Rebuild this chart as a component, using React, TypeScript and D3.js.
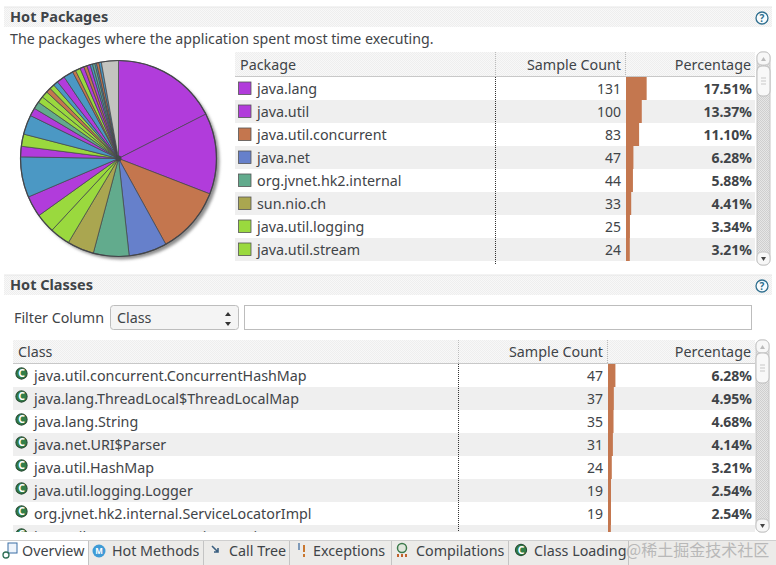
import React from "react";
import * as d3 from "d3";

const FONT = "'Noto Sans', sans-serif";
const TEXT = "#3f4448";
const ROW_ALT = "#efefef";
const BAR = "#c4774f";

const PURPLE = "#b13cdb";
const ORANGE = "#c4764e";
const BLUE = "#6680cb";
const TEAL = "#62ab8d";
const OLIVE = "#aaa650";
const GREEN = "#9ad93e";
const SKY = "#4b99c4";
const GRAY = "#c3c4c0";

const packageNames = ["java.lang", "java.util", "java.util.concurrent", "java.net", "org.jvnet.hk2.internal", "sun.nio.ch", "java.util.logging", "java.util.stream"];
const packageCounts = [131, 100, 83, 47, 44, 33, 25, 24];
const packagePercents = [17.51, 13.37, 11.1, 6.28, 5.88, 4.41, 3.34, 3.21];
const packageColors = [PURPLE, PURPLE, ORANGE, BLUE, TEAL, OLIVE, GREEN, GREEN];

const otherSliceCounts = [26, 50, 13, 15, 24, 10, 9, 8, 8, 6, 6, 6, 10, 12, 4, 6, 5, 4, 4, 3, 3, 2, 3, 3, 21];
const otherSliceColors = [PURPLE, SKY, PURPLE, GREEN, SKY, PURPLE, TEAL, GREEN, GREEN, ORANGE, GREEN, SKY, PURPLE, SKY, ORANGE, GREEN, PURPLE, ORANGE, PURPLE, SKY, TEAL, SKY, ORANGE, SKY, GRAY];

const classNames = ["java.util.concurrent.ConcurrentHashMap", "java.lang.ThreadLocal$ThreadLocalMap", "java.lang.String", "java.net.URI$Parser", "java.util.HashMap", "java.util.logging.Logger", "org.jvnet.hk2.internal.ServiceLocatorImpl", "java.util.concurrent.atomic.AtomicLong"];
const classCounts = [47, 37, 35, 31, 24, 19, 19];
const classPercents = [6.28, 4.95, 4.68, 4.14, 3.21, 2.54, 2.54, 2.41];

const tabLabels = ["Overview", "Hot Methods", "Call Tree", "Exceptions", "Compilations", "Class Loading"];
const tabEdges = [0, 88, 203, 289, 391, 508, 628];
const tabIconX = [3, 92, 210, 295, 396, 514];
const tabTextX = [22, 112, 229, 313, 416, 534];

const pieValues = [...packageCounts, ...otherSliceCounts];
const pieColors = [...packageColors, ...otherSliceColors];
const ditherPairs: [string, string, string][] = [
  [OLIVE, "#c2a24e", "#92aa52"],
  [TEAL, "#58a29c", "#6cb47e"],
  [BLUE, "#5c78cc", "#7088ca"],
  [SKY, "#4290c8", "#549fc0"],
];

const barScale = d3.scaleLinear().domain([0, 100]).range([0, 118]);
const sliceFill = (c: string) => {
  const k = ditherPairs.findIndex((p) => p[0] === c);
  return k >= 0 ? `url(#slice${k})` : c;
};

function SectionHeader({ y, title, base }: { y: number; title: string; base: number }) {
  return (
    <g>
      <rect x={4} y={y} width={768} height={20} fill="url(#dither)" />
      <line x1={4} x2={772} y1={y} y2={y} stroke="#e6e6e6" />
      <text x={10} y={base} fontSize={14.5} fontWeight={700} fill={TEXT}>{title}</text>
      <circle cx={762} cy={y + 11} r={6} fill="#f8fbfd" stroke="#2f6f8f" strokeWidth={1.3} />
      <text x={762} y={y + 15} fontSize={10} fontWeight={700} textAnchor="middle" fill="#2f6f8f">?</text>
    </g>
  );
}

function Scrollbar({ x, y, height, thumbY }: { x: number; y: number; height: number; thumbY: number }) {
  return (
    <g>
      <rect x={x} y={y} width={13} height={height} rx={5} fill="url(#ditherDark)" stroke="#c6c6c6" />
      <rect x={x} y={y} width={13} height={13} rx={5} fill="#f7f7f7" stroke="#c6c6c6" />
      <path d={`M${x + 4},${y + 9}L${x + 9},${y + 9}L${x + 6.5},${y + 5}Z`} fill="#bbbbbb" />
      <rect x={x} y={y + height - 13} width={13} height={13} rx={5} fill="#f7f7f7" stroke="#c6c6c6" />
      <path d={`M${x + 4},${y + height - 8}L${x + 9},${y + height - 8}L${x + 6.5},${y + height - 4}Z`} fill="#444444" />
      <rect x={x} y={thumbY} width={13} height={30} rx={5} fill="#f8f8f8" stroke="#bdbdbd" />
      <path d={`M${x + 4},${thumbY + 12}h5M${x + 4},${thumbY + 15}h5M${x + 4},${thumbY + 18}h5`} stroke="#c8c8c8" />
    </g>
  );
}

function Table(props: {
  id: string; x: number; top: number; headerH: number; headBase: number; bottom: number; col1: number; col2: number; right: number;
  title: string; names: string[]; counts: number[]; percents: number[]; colors?: string[];
}) {
  const { id, x, top, headerH, headBase, bottom, col1, col2, right, title, names, counts, percents, colors } = props;
  const y0 = top + headerH;
  const band = d3.scaleBand<number>().domain(d3.range(names.length)).range([y0, y0 + names.length * 23]);
  const textX = colors ? x + 22 : x + 21;
  return (
    <g>
      <clipPath id={id}><rect x={x} y={top} width={right - x} height={bottom - top} /></clipPath>
      <g clipPath={`url(#${id})`}>
        <rect x={x} y={top} width={right - x} height={headerH - 1} fill="url(#dither)" />
        <line x1={x} x2={right} y1={y0 - 0.5} y2={y0 - 0.5} stroke="#c8c8c8" />
        {[col1, col2].map((c) => (
          <line key={c} x1={c + 0.5} x2={c + 0.5} y1={top} y2={y0 - 1} stroke="#bbbbbb" strokeDasharray="1 1" />
        ))}
        <text x={x + 5} y={headBase} fontSize={14.3} fill={TEXT}>{title}</text>
        <text x={col2 - 4} y={headBase} fontSize={14.3} fill={TEXT} textAnchor="end">Sample Count</text>
        <text x={right - 4} y={headBase} fontSize={14.3} fill={TEXT} textAnchor="end">Percentage</text>
        {names.map((name, i) => {
          const y = band(i) as number;
          const h = band.bandwidth();
          return (
            <g key={name}>
              <rect x={x} y={y} width={right - x} height={h} fill={i % 2 ? ROW_ALT : "#ffffff"} />
              {colors ? (
                <rect x={x + 3.5} y={y + 5} width={12.5} height={12.5} fill={colors[i]} stroke="#555555" strokeWidth={0.8} />
              ) : (
                <g>
                  <circle cx={x + 8.5} cy={y + 9.5} r={5.6} fill="#327f48" stroke="#2a4f36" strokeWidth={1.1} />
                  <text x={x + 8.5} y={y + 13.2} fontSize={10.5} fontWeight={700} textAnchor="middle" fill="#ffffff">C</text>
                </g>
              )}
              <text x={textX} y={y + 17} fontSize={14.3} fill={TEXT}>{name}</text>
              {counts[i] !== undefined && (
                <text x={col2 - 4} y={y + 17} fontSize={14} fill={TEXT} textAnchor="end">{counts[i]}</text>
              )}
              <rect x={col2 + 1} y={y} width={barScale(percents[i])} height={h} fill={BAR} />
              {counts[i] !== undefined && (
                <text x={right - 3} y={y + 17} fontSize={14} fontWeight={700} fill={TEXT} textAnchor="end">{percents[i].toFixed(2)}%</text>
              )}
            </g>
          );
        })}
        <line x1={col1 + 0.5} x2={col1 + 0.5} y1={y0} y2={bottom} stroke="#333333" strokeDasharray="1 1" />
      </g>
    </g>
  );
}

function TabIcon({ index, x }: { index: number; x: number }) {
  const cy = 551;
  if (index === 0)
    return <g><rect x={x + 5} y={cy - 8} width={9} height={10} fill="#eef4fb" stroke="#3a6ea5" /><circle cx={x + 3} cy={cy + 4} r={3} fill="none" stroke="#2e6f55" strokeWidth={1.3} /></g>;
  if (index === 1)
    return <g><circle cx={x + 7} cy={cy} r={6.5} fill="#3f9bd6" /><text x={x + 7} y={cy + 3} fontSize={8} fontWeight={700} textAnchor="middle" fill="#ffffff">M</text></g>;
  if (index === 2)
    return <path d={`M${x + 2},${cy - 5}L${x + 8},${cy + 1}M${x + 4},${cy + 1}H${x + 8}V${cy - 3}`} fill="none" stroke="#3a5f80" strokeWidth={1.6} />;
  if (index === 3)
    return <g><path d={`M${x + 4},${cy - 8}V${cy - 1}`} stroke="#5a7fa8" strokeWidth={1.5} /><path d={`M${x + 9},${cy - 6}V${cy + 1}M${x + 9},${cy + 3}V${cy + 6}`} stroke="#c9772f" strokeWidth={2} /></g>;
  if (index === 4)
    return <g><circle cx={x + 6} cy={cy - 3} r={4.5} fill="#dfe6dc" stroke="#3d7a4c" strokeWidth={1.5} /><path d={`M${x + 2},${cy + 6}v-3M${x + 6},${cy + 6}v-3M${x + 10},${cy + 6}v-3`} stroke="#c2622d" strokeWidth={2} /></g>;
  return <g><circle cx={x + 7} cy={cy - 1} r={5.6} fill="#327f48" stroke="#2a4f36" strokeWidth={1.1} /><text x={x + 7} y={cy + 2.7} fontSize={10.5} fontWeight={700} textAnchor="middle" fill="#ffffff">C</text></g>;
}

export default function App() {
  const cx = 118.5;
  const cy = 158.5;
  const r = 98;
  const arcs = d3.pie<number>().sort(null)(pieValues);
  const arc = d3.arc<d3.PieArcDatum<number>>().innerRadius(0).outerRadius(r);

  return (
    <svg width={776} height={565} viewBox="0 0 776 565" style={{ position: "fixed", left: 0, top: 0, background: "#ffffff" }} fontFamily={FONT}>
      <defs>
        <pattern id="dither" width={2} height={2} patternUnits="userSpaceOnUse">
          <rect width={2} height={2} fill="#f8f8f8" />
          <rect width={1} height={1} fill="#eeeeee" />
          <rect x={1} y={1} width={1} height={1} fill="#eeeeee" />
        </pattern>
        <pattern id="ditherDark" width={2} height={2} patternUnits="userSpaceOnUse">
          <rect width={2} height={2} fill="#e6e6e6" />
          <rect width={1} height={1} fill="#cfcfcf" />
          <rect x={1} y={1} width={1} height={1} fill="#cfcfcf" />
        </pattern>
        {ditherPairs.map((p, k) => (
          <pattern key={k} id={`slice${k}`} width={2} height={2} patternUnits="userSpaceOnUse">
            <rect width={2} height={2} fill={p[1]} />
            <rect width={1} height={1} fill={p[2]} />
            <rect x={1} y={1} width={1} height={1} fill={p[2]} />
          </pattern>
        ))}
        <filter id="shadow" x="-10%" y="-10%" width="125%" height="125%">
          <feGaussianBlur stdDeviation={1.5} />
        </filter>
      </defs>

      <SectionHeader y={7} base={22} title="Hot Packages" />
      <text x={10} y={44} fontSize={14.2} fill={TEXT}>The packages where the application spent most time executing.</text>

      <circle cx={cx + 3} cy={cy + 3} r={r} fill="#8f8f8f" filter="url(#shadow)" />
      <g transform={`translate(${cx},${cy})`}>
        {arcs.map((a, i) => (
          <path key={i} d={arc(a) as string} fill={sliceFill(pieColors[i])} stroke="#44464a" strokeWidth={0.7} />
        ))}
        <circle r={r} fill="none" stroke="#44464a" strokeWidth={1.2} />
        <circle r={3} fill="#44464a" />
      </g>

      <Table id="t1" x={235} top={52} headerH={25} headBase={70} bottom={264} col1={495} col2={625} right={755}
        title="Package" names={packageNames} counts={packageCounts} percents={packagePercents} colors={packageColors} />
      <Scrollbar x={757} y={52} height={213} thumbY={66} />

      <SectionHeader y={275} base={290} title="Hot Classes" />
      <text x={14} y={323} fontSize={14.3} fill={TEXT}>Filter Column</text>
      <rect x={110.5} y={305.5} width={128} height={24} rx={3} fill="#f4f4f4" stroke="#bdbdbd" />
      <text x={117} y={323} fontSize={14.3} fill={TEXT}>Class</text>
      <path d="M225,316l3,-4l3,4ZM225,322l3,4l3,-4Z" fill="#333333" />
      <rect x={244.5} y={305.5} width={507} height={24} fill="#ffffff" stroke="#bdbdbd" />

      <Table id="t2" x={13} top={340} headerH={24} headBase={357} bottom={532} col1={458} col2={607} right={755}
        title="Class" names={classNames} counts={classCounts} percents={classPercents} />
      <Scrollbar x={756} y={340} height={192} thumbY={353} />

      <rect x={0} y={540} width={776} height={25} fill="#ecebe9" />
      <line x1={0} x2={776} y1={540.5} y2={540.5} stroke="#cfcfcf" />
      <rect x={0} y={541} width={88} height={24} fill="#ffffff" />
      {tabLabels.map((label, i) => (
        <g key={label}>
          <TabIcon index={i} x={tabIconX[i]} />
          <text x={tabTextX[i]} y={556} fontSize={14.3} fill={TEXT}>{label}</text>
          <line x1={tabEdges[i + 1] + 0.5} x2={tabEdges[i + 1] + 0.5} y1={541} y2={565} stroke="#c4c4c4" />
        </g>
      ))}
      <text x={626} y={556} fontSize={16} fill="#b8b8b8" fontFamily="'Noto Sans CJK SC', sans-serif">@稀土掘金技术社区</text>
    </svg>
  );
}
